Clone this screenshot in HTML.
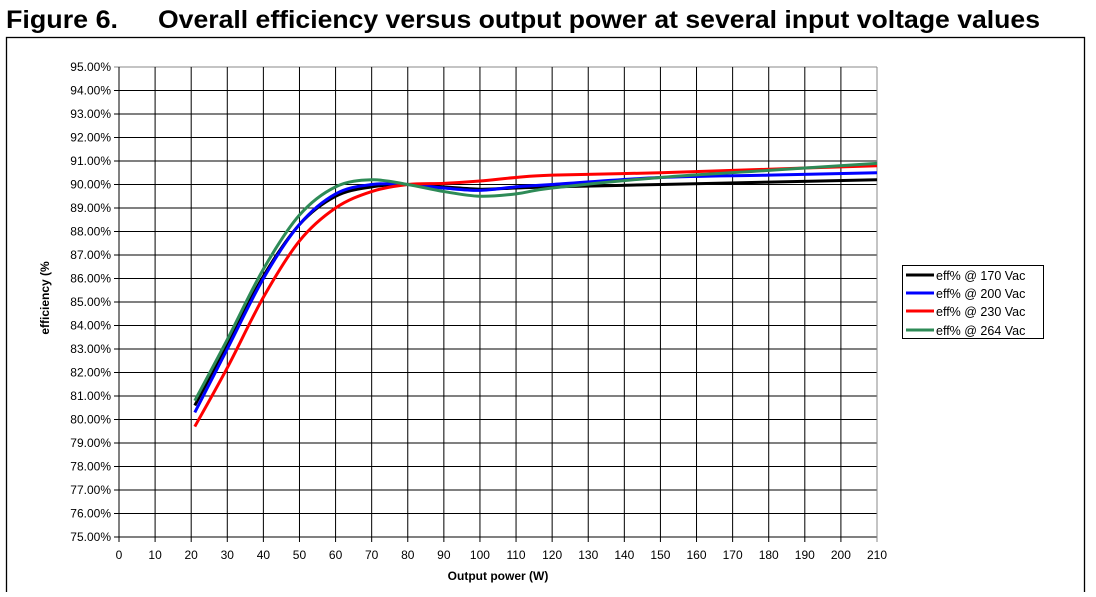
<!DOCTYPE html>
<html><head><meta charset="utf-8"><style>
body{margin:0;background:#fff;width:1096px;height:592px;overflow:hidden;font-family:"Liberation Sans",Arial,sans-serif}
</style></head><body>
<svg id="s" width="1096" height="592" xmlns="http://www.w3.org/2000/svg" font-family="Liberation Sans, Arial, sans-serif">
<text x="6" y="28" font-size="25" font-weight="bold" textLength="112" lengthAdjust="spacingAndGlyphs">Figure 6.</text>
<text x="158" y="28" font-size="25" font-weight="bold" textLength="882" lengthAdjust="spacingAndGlyphs">Overall efficiency versus output power at several input voltage values</text>
<rect x="6.5" y="37.5" width="1078" height="560" fill="none" stroke="#000" stroke-width="1.3"/>
<g id="grid"></g>
<g id="curves" fill="none" stroke-width="3" stroke-linejoin="round"></g>
<text x="498" y="580" font-size="12" font-weight="bold" text-anchor="middle">Output power (W)</text>
<text transform="translate(49,298) rotate(-90)" font-size="12" font-weight="bold" text-anchor="middle">efficiency (%</text>
<rect x="902.5" y="265.5" width="141" height="73" fill="#fff" stroke="#000" stroke-width="1"/>
<g font-size="12.5">
<line x1="906" y1="275" x2="934" y2="275" stroke="#000" stroke-width="3"/><text x="936" y="280">eff% @ 170 Vac</text>
<line x1="906" y1="293" x2="934" y2="293" stroke="#0000ff" stroke-width="3"/><text x="936" y="298">eff% @ 200 Vac</text>
<line x1="906" y1="311" x2="934" y2="311" stroke="#ff0000" stroke-width="3"/><text x="936" y="316">eff% @ 230 Vac</text>
<line x1="906" y1="330" x2="934" y2="330" stroke="#2e8b57" stroke-width="3"/><text x="936" y="335">eff% @ 264 Vac</text>
</g>
</svg>
<script>
function X(p){return 119+p*758/210}
function Y(e){return 537-(e-75)*23.5}
var g=document.getElementById('grid'),h='';
for(var i=0;i<=20;i++){var y=Y(75+i);
h+='<line x1="114" x2="877" y1="'+y+'" y2="'+y+'" stroke="'+(i==20?'#888':'#000')+'" stroke-width="1"/>';
h+='<text x="111" y="'+(y+4)+'" font-size="12" text-anchor="end">'+(75+i).toFixed(2)+'%</text>';}
for(var p=0;p<=210;p+=10){var x=X(p);
h+='<line y1="67" y2="542" x1="'+x+'" x2="'+x+'" stroke="'+(p==210?'#888':'#000')+'" stroke-width="1"/>';
h+='<text x="'+x+'" y="559" font-size="12" text-anchor="middle">'+p+'</text>';}
g.innerHTML=h;
var P=[21,30,40,50,60,70,80,90,100,110,120,150,180,210];
var D={
"#000":[80.6,83.2,86.1,88.3,89.5,89.9,90.0,89.9,89.8,89.85,89.9,90.0,90.1,90.2],
"#0000ff":[80.3,83.0,86.0,88.3,89.6,90.0,90.0,89.85,89.75,89.9,90.0,90.3,90.4,90.5],
"#ff0000":[79.7,82.2,85.2,87.6,89.0,89.7,90.0,90.05,90.15,90.3,90.4,90.5,90.65,90.8],
"#2e8b57":[80.8,83.4,86.4,88.7,89.9,90.2,90.0,89.7,89.5,89.6,89.85,90.3,90.6,90.9]};
var c='';
for(var k in D){var pts=P.map(function(p,i){return [X(p),Y(D[k][i])]});
var d='M'+pts[0][0]+','+pts[0][1];
for(var i=0;i<pts.length-1;i++){var p0=pts[Math.max(0,i-1)],p1=pts[i],p2=pts[i+1],p3=pts[Math.min(pts.length-1,i+2)];
d+=' C'+(p1[0]+(p2[0]-p0[0])/6)+','+(p1[1]+(p2[1]-p0[1])/6)+' '+(p2[0]-(p3[0]-p1[0])/6)+','+(p2[1]-(p3[1]-p1[1])/6)+' '+p2[0]+','+p2[1];}
c+='<path d="'+d+'" stroke="'+k+'"/>';}
document.getElementById('curves').innerHTML=c;
</script>
</body></html>
